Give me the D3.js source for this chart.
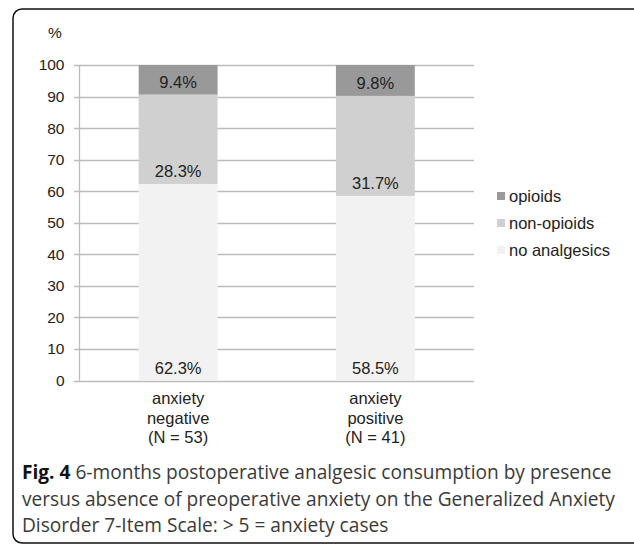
<!DOCTYPE html>
<html><head><meta charset="utf-8">
<script src="https://cdn.jsdelivr.net/npm/d3@7"></script>
<style>body{margin:0;background:#fff}</style>
</head><body>
<svg id="c" width="634" height="546"></svg>
<script>
const categories = [["anxiety","negative","(N = 53)"],["anxiety","positive","(N = 41)"]];
const seriesNames = ["no analgesics","non-opioids","opioids"];
const noAnalgesics = [62.3, 58.5];
const nonOpioids = [28.3, 31.7];
const opioids = [9.4, 9.8];
const yTicks = [0,10,20,30,40,50,60,70,80,90,100];
const colors = ["#f2f2f2","#cfd0cf","#999999"];
const captionLines = [
  {bold:"Fig. 4", text:" 6-months postoperative analgesic consumption by presence"},
  {bold:"", text:"versus absence of preoperative anxiety on the Generalized Anxiety"},
  {bold:"", text:"Disorder 7-Item Scale: > 5 = anxiety cases"}
];

const svg = d3.select("#c");
svg.append("rect").attr("x",13).attr("y",9).attr("width",640).attr("height",534)
  .attr("rx",9).attr("fill","none").attr("stroke","#111").attr("stroke-width",1.5);

const x0 = 79.5, x1 = 474;
const y = d3.scaleLinear().domain([0,100]).range([380.5,65]);
const x = d3.scaleBand().domain([0,1]).range([x0,x1]).paddingInner(0.6).paddingOuter(0.3);

svg.append("g").selectAll("line").data(yTicks).join("line")
  .attr("x1",74).attr("x2",x1).attr("y1",d=>Math.round(y(d))+0.5).attr("y2",d=>Math.round(y(d))+0.5)
  .attr("stroke","#bcbcbc").attr("stroke-width",1.3);
svg.append("line").attr("x1",x0).attr("x2",x0).attr("y1",y(100)).attr("y2",y(0))
  .attr("stroke","#bcbcbc").attr("stroke-width",1.3);
const ax = d3.axisLeft(y).tickValues(yTicks).tickSize(0).tickPadding(15);
const gA = svg.append("g").attr("transform",`translate(${x0},0)`).call(ax);
gA.select(".domain").remove();
gA.selectAll("text").attr("font-family","Liberation Sans, Arial, sans-serif").attr("font-size","15.5px").attr("fill","#222");
svg.append("text").attr("x",55).attr("y",38).attr("text-anchor","middle")
  .attr("font-family","Liberation Sans, Arial, sans-serif").attr("font-size","15.5px").attr("fill","#222").text("%");

const rows = categories.map((c,i)=>({i, "no analgesics":noAnalgesics[i], "non-opioids":nonOpioids[i], "opioids":opioids[i]}));
const stack = d3.stack().keys(seriesNames)(rows);
stack.forEach((s,si)=>{
  const g = svg.append("g");
  g.selectAll("rect").data(s).join("rect")
    .attr("x",d=>x(d.data.i)).attr("width",x.bandwidth())
    .attr("y",d=>y(d[1])).attr("height",d=>y(d[0])-y(d[1]))
    .attr("fill",colors[si]);
  g.selectAll("text").data(s).join("text")
    .attr("x",d=>x(d.data.i)+x.bandwidth()/2).attr("y",d=>y(d[0])-7)
    .attr("text-anchor","middle").attr("font-family","Liberation Sans, Arial, sans-serif")
    .attr("font-size","16.5px").attr("fill","#222")
    .text(d=>d3.format(".1f")(d[1]-d[0])+"%");
});

categories.forEach((c,i)=>{
  const t = svg.append("text").attr("text-anchor","middle")
    .attr("font-family","Liberation Sans, Arial, sans-serif").attr("font-size","16.5px").attr("fill","#222");
  c.forEach((line,j)=>t.append("tspan").attr("x",x(i)+x.bandwidth()/2).attr("y",404+j*19.5).text(line));
});

const leg = [...seriesNames].reverse();
leg.forEach((n,k)=>{
  const yy = 196 + k*27;
  svg.append("rect").attr("x",497).attr("y",yy-4).attr("width",8).attr("height",8)
    .attr("fill",colors[seriesNames.indexOf(n)]);
  svg.append("text").attr("x",509).attr("y",yy+6).attr("font-family","Liberation Sans, Arial, sans-serif")
    .attr("font-size","16.5px").attr("fill","#222").text(n);
});

// caption, font size fitted so the first line spans the reference width
const capTexts = captionLines.map((l,k)=>{
  const t = svg.append("text").attr("x",22).attr("y",479+k*26.5)
    .attr("font-family","Open Sans, sans-serif").attr("font-size","17px").attr("fill","#3a3a3a");
  if(l.bold) t.append("tspan").attr("font-weight","bold").attr("fill","#111").text(l.bold);
  t.append("tspan").text(l.text);
  return t;
});
const w = capTexts[0].node().getComputedTextLength();
const fs = 17 * 590 / w;
capTexts.forEach(t=>t.attr("font-size", fs+"px"));
</script>
</body></html>
